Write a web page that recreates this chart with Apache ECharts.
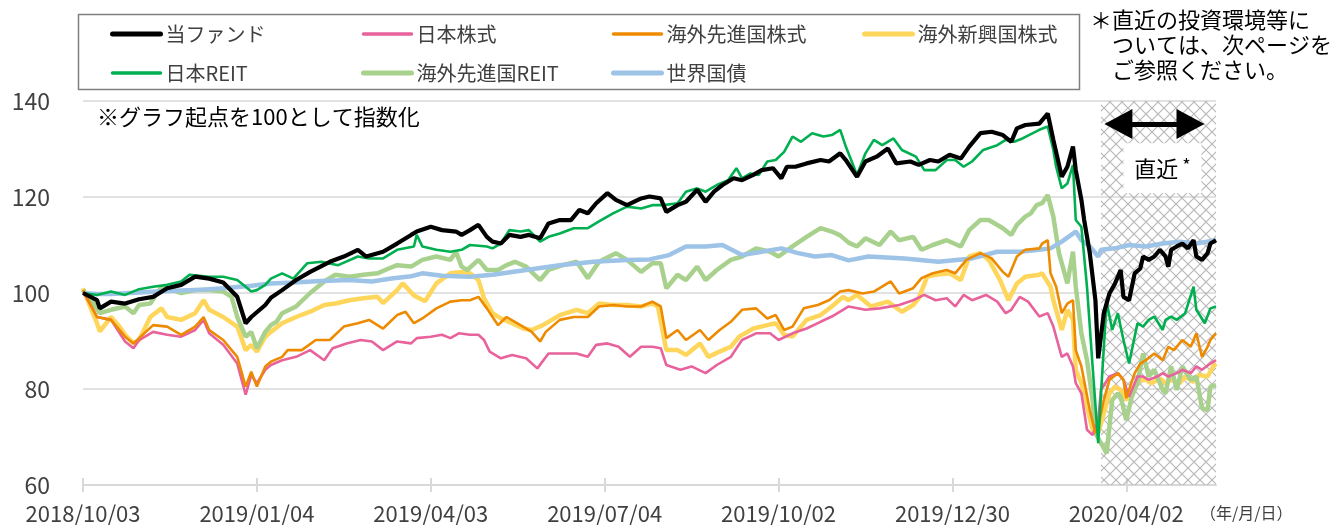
<!DOCTYPE html>
<html><head><meta charset="utf-8">
<script src="https://cdn.jsdelivr.net/npm/echarts@6/dist/echarts.min.js"></script>
<style>html,body{margin:0;padding:0;background:#fff}#c{width:1335px;height:525px}</style>
</head><body><div id="c"></div>
<script>
// ---- data (x = business-day index from 2018/10/03, y = index, start = 100) ----
const tickDays = [0, 62, 124, 186, 248, 310, 372];
const tickLabels = ['2018/10/03', '2019/01/04', '2019/04/03', '2019/07/04', '2019/10/02', '2019/12/30', '2020/04/02'];
const lastDay = 404;
const recentStart = 363;
const names = ['当ファンド', '日本株式', '海外先進国株式', '海外新興国株式', '日本REIT', '海外先進国REIT', '世界国債'];

const fund = [[0,100.0],[5,98.5],[6,96.8],[10,98.2],[15,97.8],[20,98.7],[25,99.2],[30,101.0],[35,101.7],[40,103.4],[45,103.0],[50,102.2],[55,99.2],[58,93.7],[60,95.0],[65,97.5],[67,99.0],[71,100.6],[76,102.7],[81,104.4],[88,106.5],[93,107.6],[98,109.0],[101,107.6],[107,108.6],[112,110.3],[117,112.1],[119,112.8],[124,113.8],[128,113.1],[133,112.8],[135,112.1],[138,113.1],[141,114.2],[144,111.7],[146,110.7],[149,110.3],[152,112.1],[156,111.7],[159,112.1],[163,111.4],[166,114.5],[170,115.2],[174,115.2],[177,117.3],[180,116.6],[183,118.7],[187,120.8],[190,119.4],[194,118.3],[199,119.7],[202,120.1],[206,119.7],[208,116.9],[212,118.3],[215,119.0],[219,121.5],[222,119.0],[225,121.1],[228,122.5],[232,123.9],[235,123.5],[239,124.6],[242,125.6],[246,126.0],[249,123.9],[251,126.3],[254,126.3],[258,127.0],[263,127.7],[266,127.4],[270,129.1],[272,127.7],[276,124.2],[279,127.4],[283,128.4],[287,130.1],[290,127.0],[295,127.4],[298,126.7],[302,127.7],[305,127.4],[309,128.8],[313,128.0],[316,130.5],[320,133.3],[324,133.6],[328,132.9],[331,131.5],[333,134.3],[336,135.0],[341,135.3],[344,137.4],[346,131.9],[349,124.2],[351,126.3],[353,130.5],[354,125.6],[356,119.4],[357,115.2],[359,108.3],[361,98.5],[362,86.4],[364,95.8],[366,99.9],[368,102.0],[370,104.8],[371,99.2],[373,98.5],[375,104.1],[377,105.1],[378,107.6],[380,106.9],[382,107.6],[384,109.0],[386,107.6],[387,105.5],[388,109.0],[390,109.7],[392,110.3],[394,109.3],[396,111.0],[397,107.6],[399,106.9],[401,108.3],[402,110.3],[404,111.0]];

const jpStock = [[0,100.3],[3,97.2],[5,95.0],[10,94.4],[15,89.9],[18,88.5],[20,90.2],[25,91.9],[30,91.3],[35,90.9],[40,92.3],[43,94.4],[45,91.6],[50,89.2],[55,85.3],[58,78.8],[60,82.9],[62,81.2],[65,84.0],[67,85.0],[71,86.0],[76,86.7],[81,88.1],[86,86.0],[89,88.5],[94,89.5],[99,90.2],[103,89.9],[107,88.1],[112,89.9],[117,89.5],[119,90.6],[124,90.9],[128,91.3],[131,90.6],[134,91.6],[138,91.3],[141,91.3],[143,90.2],[145,87.8],[149,86.4],[153,87.1],[158,86.4],[162,84.3],[166,87.4],[171,87.4],[176,87.4],[180,86.7],[183,89.2],[187,89.5],[191,88.8],[195,86.7],[199,88.8],[203,88.8],[206,88.5],[208,85.0],[213,84.0],[217,84.7],[222,83.3],[226,85.0],[231,86.7],[235,90.2],[240,91.6],[245,91.6],[248,90.2],[253,91.6],[258,92.6],[263,94.0],[267,95.1],[271,96.5],[273,97.2],[279,96.5],[284,96.8],[291,97.5],[296,98.5],[300,99.6],[304,98.5],[308,98.9],[311,97.2],[314,99.6],[317,98.5],[322,99.6],[326,98.2],[329,95.8],[331,96.5],[334,99.2],[337,98.2],[341,95.1],[344,95.8],[346,93.0],[349,86.7],[351,87.4],[353,84.7],[354,81.2],[356,79.1],[358,71.5],[360,70.4],[362,73.5],[363,79.8],[366,82.6],[369,83.3],[371,81.9],[373,78.4],[376,82.6],[378,82.6],[380,81.9],[383,82.6],[385,83.3],[387,82.6],[390,83.3],[392,84.0],[395,83.3],[397,84.7],[399,84.0],[402,85.3],[404,86.0]];

const devStock = [[0,100.6],[3,97.2],[5,95.0],[10,94.4],[15,90.9],[18,89.5],[20,90.6],[25,93.3],[30,93.0],[35,91.3],[40,93.0],[43,95.0],[45,92.3],[50,90.2],[55,86.7],[58,80.5],[60,83.6],[62,80.5],[65,84.7],[67,85.7],[71,86.7],[73,88.1],[78,88.1],[83,90.2],[88,90.2],[93,93.0],[98,93.7],[102,94.4],[107,92.6],[112,95.4],[115,96.1],[118,93.7],[121,94.7],[126,96.8],[131,98.2],[135,98.5],[138,98.5],[141,99.2],[144,96.8],[148,93.3],[151,95.0],[156,93.3],[160,91.9],[163,89.9],[165,91.9],[170,94.4],[175,95.0],[180,95.0],[184,97.2],[189,97.5],[194,97.2],[199,97.2],[203,98.2],[206,97.2],[208,90.6],[212,92.3],[215,90.2],[220,92.3],[223,90.2],[227,92.3],[231,94.0],[235,96.5],[240,96.8],[244,94.7],[247,95.4],[250,92.3],[253,93.0],[257,96.8],[262,97.5],[266,98.5],[270,100.3],[273,100.6],[278,99.9],[282,100.3],[288,102.4],[291,99.9],[296,101.0],[299,103.1],[303,104.1],[308,104.8],[311,104.1],[315,106.9],[320,108.3],[324,107.2],[328,104.4],[330,103.4],[333,107.6],[336,109.0],[341,109.3],[342,110.3],[344,111.0],[345,104.1],[347,101.3],[349,95.8],[351,97.8],[353,98.5],[354,88.1],[356,84.7],[359,75.6],[361,70.8],[362,72.2],[364,77.7],[366,81.9],[369,83.3],[371,81.9],[372,78.1],[375,83.3],[377,85.3],[379,86.0],[382,87.4],[385,86.0],[387,88.8],[389,88.1],[392,90.2],[395,88.8],[397,91.6],[399,86.7],[401,88.8],[402,90.2],[404,91.6]];

const emStock = [[0,101.0],[3,96.5],[5,93.7],[6,92.0],[10,95.0],[13,93.0],[15,91.3],[18,89.5],[20,90.2],[24,95.0],[28,96.8],[30,95.0],[35,94.4],[40,95.8],[43,98.5],[45,96.5],[50,95.0],[55,93.0],[58,88.1],[60,89.2],[62,87.8],[65,90.9],[67,91.9],[71,93.7],[76,95.0],[81,96.1],[86,97.5],[90,97.8],[95,98.5],[100,98.9],[105,99.2],[107,97.9],[112,100.6],[114,102.0],[118,99.5],[122,98.3],[126,102.0],[131,104.1],[135,104.4],[138,104.1],[141,102.7],[143,98.9],[146,95.8],[149,94.7],[153,93.7],[157,92.6],[160,92.3],[164,93.3],[170,95.4],[176,96.5],[180,95.8],[184,97.8],[189,97.5],[194,97.5],[199,97.2],[203,97.8],[205,97.2],[208,88.1],[212,88.1],[215,87.1],[220,89.5],[223,86.7],[227,87.8],[231,88.8],[234,90.9],[239,92.6],[244,93.3],[247,93.7],[250,91.3],[253,90.9],[258,94.4],[263,95.4],[267,97.2],[271,99.2],[273,98.5],[276,99.6],[281,97.2],[287,98.2],[292,96.1],[296,97.5],[298,98.9],[301,103.4],[304,103.8],[309,104.1],[313,102.7],[316,107.6],[320,108.3],[323,106.9],[327,102.7],[330,98.5],[333,102.0],[336,103.4],[341,103.8],[342,104.1],[345,101.3],[346,98.5],[349,92.3],[351,96.5],[353,94.4],[354,84.0],[356,81.2],[358,76.3],[360,71.5],[362,70.8],[364,74.9],[366,79.1],[368,80.5],[370,79.8],[372,77.7],[374,79.8],[377,81.9],[379,81.9],[381,81.2],[384,82.2],[386,81.2],[388,81.9],[391,81.2],[393,82.6],[396,81.5],[398,82.9],[401,82.6],[403,84.7],[404,85.3]];

const jpReit = [[0,100.0],[5,99.6],[10,100.3],[15,99.6],[20,100.8],[25,101.3],[30,101.7],[35,102.4],[38,103.8],[45,103.4],[50,103.4],[55,102.7],[58,101.3],[60,100.3],[62,100.6],[65,101.7],[67,103.0],[71,104.1],[75,103.0],[80,106.2],[85,106.5],[91,105.8],[98,107.6],[102,107.2],[107,107.2],[112,109.0],[118,109.7],[119,112.1],[121,109.7],[126,109.0],[131,108.6],[135,109.0],[138,110.0],[144,109.7],[146,109.3],[149,110.3],[152,113.1],[156,112.8],[159,113.1],[163,110.7],[166,111.7],[170,112.4],[175,113.5],[180,113.5],[184,114.9],[189,116.6],[194,118.0],[199,117.6],[203,118.3],[207,118.3],[212,118.7],[215,121.1],[219,121.8],[222,121.1],[226,122.5],[230,123.5],[233,126.0],[235,123.9],[238,124.9],[241,124.6],[244,127.4],[247,127.7],[250,129.4],[253,132.6],[256,131.5],[260,133.3],[264,132.6],[267,132.9],[270,134.0],[272,130.5],[276,124.6],[279,129.1],[282,131.9],[285,130.8],[289,132.2],[292,129.8],[297,128.4],[300,125.6],[304,125.6],[308,127.7],[311,127.7],[314,126.3],[317,127.4],[321,129.8],[326,130.8],[329,131.9],[332,131.5],[335,132.2],[341,134.0],[344,134.7],[346,129.8],[347,126.3],[349,121.8],[351,122.8],[353,126.7],[354,115.2],[356,113.8],[358,101.3],[360,84.7],[362,68.7],[363,79.1],[365,98.2],[367,92.3],[369,95.8],[371,90.2],[373,85.3],[376,93.7],[378,93.0],[380,94.4],[382,95.1],[385,92.3],[386,94.4],[388,95.1],[390,94.4],[393,95.8],[396,101.3],[397,96.5],[400,93.7],[402,96.8],[404,97.2]];

const devReit = [[0,100.6],[3,98.5],[6,95.8],[10,96.5],[15,97.2],[18,95.8],[20,97.5],[24,97.8],[28,101.3],[30,101.0],[35,100.0],[40,100.6],[45,100.6],[50,100.3],[53,99.2],[55,95.0],[58,90.9],[60,91.9],[62,88.5],[65,91.9],[67,93.3],[69,94.0],[71,95.8],[76,97.2],[81,100.0],[86,102.4],[90,103.8],[95,103.4],[100,103.8],[105,104.1],[109,105.1],[112,105.8],[117,105.5],[121,106.9],[126,107.6],[131,106.9],[133,108.6],[135,105.5],[137,104.8],[141,106.9],[144,104.8],[148,104.8],[151,105.8],[154,106.5],[158,105.5],[163,102.7],[166,104.8],[171,105.8],[176,106.5],[180,103.1],[184,106.5],[190,108.3],[194,106.9],[199,104.4],[203,106.2],[206,106.2],[208,101.0],[212,103.8],[215,102.7],[219,105.5],[222,102.7],[226,104.8],[231,106.9],[235,107.6],[240,109.3],[245,108.6],[248,107.6],[253,109.7],[258,111.7],[263,113.5],[267,112.8],[270,112.0],[273,110.5],[276,109.7],[279,111.4],[284,110.0],[288,112.8],[291,111.0],[296,111.7],[299,109.0],[303,110.0],[308,111.0],[313,109.7],[316,113.1],[320,115.2],[323,115.2],[328,113.5],[331,112.1],[333,114.2],[336,115.9],[338,116.6],[340,118.3],[342,118.7],[344,120.4],[346,115.9],[348,108.3],[351,102.0],[353,108.6],[354,101.3],[356,91.6],[358,86.0],[360,77.7],[361,70.8],[363,68.7],[365,66.6],[367,77.7],[369,79.1],[370,78.4],[372,73.5],[374,78.4],[376,81.2],[378,87.4],[380,82.6],[382,84.0],[385,79.8],[386,79.1],[388,84.7],[390,79.8],[392,84.7],[395,81.9],[397,82.6],[399,76.0],[401,75.6],[402,80.5],[404,80.8]];

const wBond = [[0,100.0],[5,99.8],[10,99.8],[20,100.1],[30,100.4],[40,100.6],[50,101.0],[60,101.5],[67,102.0],[75,102.2],[85,102.5],[95,102.7],[103,102.4],[110,103.0],[117,103.5],[121,104.1],[128,103.6],[138,103.4],[146,103.8],[158,104.8],[170,105.8],[182,106.5],[194,106.9],[202,107.0],[209,107.9],[215,109.7],[222,109.7],[228,110.0],[235,107.9],[242,108.6],[249,109.3],[255,108.3],[261,107.6],[267,107.9],[273,106.8],[280,107.6],[293,107.2],[305,106.5],[317,107.2],[326,108.6],[334,108.6],[341,109.0],[345,109.3],[349,110.7],[354,112.8],[356,111.0],[359,109.7],[362,107.6],[363,109.0],[368,109.3],[373,110.0],[379,109.7],[385,110.3],[391,110.7],[397,110.3],[404,111.0]];

// ---- drawing ----
const FONT = "'Noto Sans CJK JP', 'Noto Sans', sans-serif";
const chart = echarts.init(document.getElementById('c'), null, {renderer: 'canvas'});

function hatchCanvas() {
  const s = 12;
  const c = document.createElement('canvas');
  c.width = s; c.height = s;
  const g = c.getContext('2d');
  g.strokeStyle = '#b8b8b8';
  g.lineWidth = 1.2;
  g.beginPath();
  g.moveTo(-2, -2); g.lineTo(s + 2, s + 2);
  g.moveTo(s + 2, -2); g.lineTo(-2, s + 2);
  g.stroke();
  return c;
}

const lineDefs = [
  {name: names[3], data: emStock, color: '#ffd65c', width: 4.5},
  {name: names[5], data: devReit, color: '#a9d18e', width: 4.5},
  {name: names[6], data: wBond, color: '#9dc3e6', width: 4.5},
  {name: names[1], data: jpStock, color: '#e8629c', width: 2.6},
  {name: names[2], data: devStock, color: '#ee8a00', width: 2.6},
  {name: names[4], data: jpReit, color: '#00b050', width: 2.6},
  {name: names[0], data: fund, color: '#000000', width: 4.2}
];
const legendWidth = {};
lineDefs.forEach(d => { legendWidth[d.name] = d.width > 4 ? 5 : 3.5; });

const series = [{
  type: 'line', name: 'hatch', data: [], silent: true, z: 1,
  markArea: {
    silent: true,
    itemStyle: {color: {image: hatchCanvas(), repeat: 'repeat'}},
    data: [[{xAxis: recentStart}, {xAxis: lastDay}]]
  }
}];
lineDefs.forEach(d => series.push({
  type: 'line', name: d.name, data: d.data, showSymbol: false, symbol: 'none',
  color: d.color, lineStyle: {color: d.color, width: d.width}, z: 3, animation: false
}));
series.push({
  type: 'line', name: 'note', data: [], silent: true, z: 10,
  markLine: {
    silent: true, symbol: ['triangle', 'triangle'], symbolSize: [30, 28],
    lineStyle: {color: '#000', width: 5, type: 'solid'},
    itemStyle: {color: '#000'},
    label: {show: false},
    data: [[{coord: [369.2, 135.2]}, {coord: [394.9, 135.2]}]]
  },
  markPoint: {
    silent: true, symbol: 'rect', symbolSize: [78, 50],
    itemStyle: {color: '#ffffff'},
    label: {show: true, position: 'inside', formatter: '{a|直近}{b|*}',
      rich: {a: {fontSize: 22, color: '#000', fontFamily: FONT}, b: {fontSize: 18, color: '#000', fontFamily: FONT, padding: [0, 0, 6, 4]}}},
    data: [{coord: [384.9, 126.0]}]
  }
});

const legendBase = {
  orient: 'vertical', itemWidth: 48, itemHeight: 14, itemGap: 19, top: 19,
  itemStyle: {opacity: 0},
  textStyle: {fontSize: 20, color: '#404040', fontFamily: FONT}, selectedMode: false
};
const legendItems = list => list.map(n => ({name: n, lineStyle: {width: legendWidth[n], cap: 'round'}}));

const option = {
  animation: false,
  backgroundColor: '#ffffff',
  grid: {left: 83, right: 119, top: 101, bottom: 40, containLabel: false},
  xAxis: [{
    type: 'value', min: 0, max: lastDay,
    axisLine: {show: true, lineStyle: {color: '#d9d9d9', width: 2}},
    axisTick: {show: true, customValues: tickDays, length: 7, lineStyle: {color: '#d9d9d9', width: 2}},
    axisLabel: {customValues: tickDays, formatter: v => { const i = tickDays.indexOf(v); return i >= 0 ? tickLabels[i] : ''; },
      fontSize: 22, color: '#404040', margin: 18, fontFamily: FONT},
    splitLine: {show: false}
  }, {
    type: 'value', min: 0, max: lastDay, position: 'bottom',
    axisLine: {show: false},
    axisTick: {show: true, inside: true, customValues: tickDays, length: 7, lineStyle: {color: '#d9d9d9', width: 2}},
    axisLabel: {show: false}, splitLine: {show: false}
  }],
  yAxis: {
    type: 'value', min: 60, max: 140, interval: 20,
    axisLine: {show: false}, axisTick: {show: false},
    splitLine: {lineStyle: {color: '#d9d9d9', width: 1.5}},
    axisLabel: {fontSize: 23, color: '#404040', margin: 33, fontFamily: FONT}
  },
  legend: [
    Object.assign({}, legendBase, {left: 105, data: legendItems([names[0], names[4]])}),
    Object.assign({}, legendBase, {left: 356, data: legendItems([names[1], names[5]])}),
    Object.assign({}, legendBase, {left: 606, data: legendItems([names[2], names[6]])}),
    Object.assign({}, legendBase, {left: 857, data: legendItems([names[3]])})
  ],
  graphic: [
    {type: 'rect', left: 76, top: 12, silent: true, z: 0,
      shape: {width: 1001, height: 75}, style: {fill: null, stroke: '#7f7f7f', lineWidth: 1.5}},
    {type: 'text', left: 1090, top: 7, silent: true,
      style: {text: '＊直近の投資環境等に\n　ついては、次ページを\n　ご参照ください。', font: '22px ' + FONT, fill: '#000', lineHeight: 25}},
    {type: 'text', left: 97, top: 106, silent: true,
      style: {text: '※グラフ起点を100として指数化', font: '22px ' + FONT, fill: '#000'}},
    {type: 'text', left: 1200, top: 505, silent: true,
      style: {text: '（年/月/日）', font: '16px ' + FONT, fill: '#404040'}}
  ],
  series: series
};
chart.setOption(option);
</script>
</body></html>
